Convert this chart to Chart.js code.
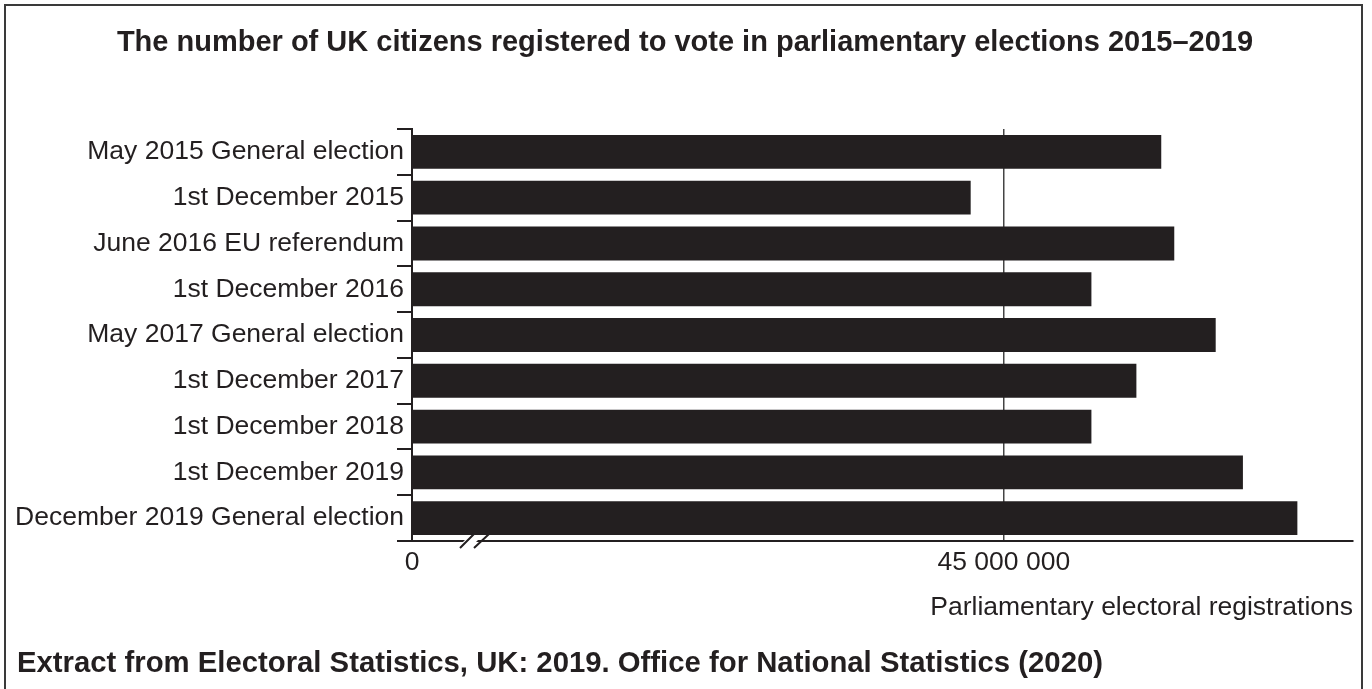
<!DOCTYPE html>
<html>
<head>
<meta charset="utf-8">
<title>UK electoral registrations 2015-2019</title>
<script src="https://cdn.jsdelivr.net/npm/chart.js@4/dist/chart.umd.min.js"></script>
<style>
    body { margin: 0; background: #ffffff; }
    #holder { width: 1372px; height: 689px; }
</style>
</head>
<body>
<div id="holder"><canvas id="chart" width="1372" height="689"></canvas></div>
<script>
// data
var categories = [
    'May 2015 General election',
    '1st December 2015',
    'June 2016 EU referendum',
    '1st December 2016',
    'May 2017 General election',
    '1st December 2017',
    '1st December 2018',
    '1st December 2019',
    'December 2019 General election'
];
var registrations = [46330000, 44720000, 46440000, 45740000, 46790000, 46120000, 45740000, 47020000, 47480000];

// broken axis: left end is labelled 0
var axisMin = 40000000;
var axisMax = 47950000;
var tickValues = [40000000, 45000000];
var tickLabels = ['0', '45 000 000'];

var titleText = 'The number of UK citizens registered to vote in parliamentary elections 2015\u20132019';
var sourceText = 'Extract from Electoral Statistics, UK: 2019. Office for National Statistics (2020)';
var axisTitle = 'Parliamentary electoral registrations';

// styles
var ink = '#231f20';
var family = '"Liberation Sans", Arial, sans-serif';

// frame and white background
var framePlugin = {
    id: 'frame',
    beforeDraw: function(chart) {
        var ctx = chart.ctx;
        ctx.save();
        ctx.fillStyle = '#ffffff';
        ctx.fillRect(0, 0, chart.width, chart.height);
        ctx.strokeStyle = '#3a3a3a';
        ctx.lineWidth = 2;
        ctx.strokeRect(5, 5, 1357, 720);
        ctx.restore();
    }
};

// axis break marks
var breakPlugin = {
    id: 'axisBreak',
    afterDraw: function(chart) {
        var ctx = chart.ctx;
        var x = chart.chartArea.left + 48;
        var y = chart.chartArea.bottom;
        ctx.save();
        // gap in the axis line
        ctx.fillStyle = '#ffffff';
        ctx.beginPath();
        ctx.moveTo(x + 1, y + 3);
        ctx.lineTo(x + 14, y + 3);
        ctx.lineTo(x + 20, y - 3);
        ctx.lineTo(x + 7, y - 3);
        ctx.closePath();
        ctx.fill();
        // two slashes
        ctx.strokeStyle = ink;
        ctx.lineWidth = 2;
        ctx.beginPath();
        ctx.moveTo(x, y + 7);
        ctx.lineTo(x + 14, y - 7);
        ctx.moveTo(x + 14, y + 7);
        ctx.lineTo(x + 29, y - 7);
        ctx.stroke();
        ctx.restore();
    }
};

// create chart
var chart = new Chart(document.getElementById('chart'), {
    type: 'bar',
    data: {
        labels: categories,
        datasets: [{
            data: registrations,
            backgroundColor: ink,
            borderWidth: 0,
            barPercentage: 0.74,
            categoryPercentage: 1
        }]
    },
    options: {
        indexAxis: 'y',
        responsive: false,
        animation: false,
        devicePixelRatio: 1,
        layout: {
            padding: { left: 17, right: 19, top: 0, bottom: 7.4 }
        },
        plugins: {
            legend: { display: false },
            tooltip: { enabled: false },
            title: {
                display: true,
                text: titleText,
                color: ink,
                font: { family: family, size: 29, weight: 'bold' },
                padding: { top: 25.6, bottom: 68.6 }
            },
            subtitle: {
                display: true,
                text: sourceText,
                position: 'bottom',
                align: 'start',
                color: ink,
                font: { family: family, size: 29.3, weight: 'bold' },
                padding: { top: 0, bottom: 0 }
            }
        },
        scales: {
            x: {
                type: 'linear',
                min: axisMin,
                max: axisMax,
                afterBuildTicks: function(scale) {
                    scale.ticks = tickValues.map(function(v) { return { value: v }; });
                },
                afterFit: function(scale) {
                    scale.height = 105.4;
                },
                ticks: {
                    color: ink,
                    font: { family: family, size: 26.5 },
                    padding: 6,
                    maxRotation: 0,
                    autoSkip: false,
                    callback: function(value) {
                        var i = tickValues.indexOf(value);
                        return i >= 0 ? tickLabels[i] : '';
                    }
                },
                grid: {
                    drawTicks: false,
                    lineWidth: 1.5,
                    color: function(c) {
                        return c.tick && c.tick.value === 45000000 ? '#444444' : 'rgba(0,0,0,0)';
                    }
                },
                border: { display: true, color: ink, width: 2 },
                title: {
                    display: true,
                    text: axisTitle,
                    align: 'end',
                    color: ink,
                    font: { family: family, size: 26.5 },
                    padding: { top: 0, bottom: 22.5 }
                }
            },
            y: {
                afterFit: function(scale) {
                    scale.width = 395;
                },
                ticks: {
                    color: ink,
                    font: { family: family, size: 26.5 },
                    padding: -7,
                    autoSkip: false
                },
                grid: {
                    offset: true,
                    drawOnChartArea: false,
                    drawTicks: true,
                    tickLength: 15,
                    color: ink,
                    lineWidth: 2
                },
                border: { display: true, color: ink, width: 2 }
            }
        }
    },
    plugins: [framePlugin, breakPlugin]
});
</script>
</body>
</html>
